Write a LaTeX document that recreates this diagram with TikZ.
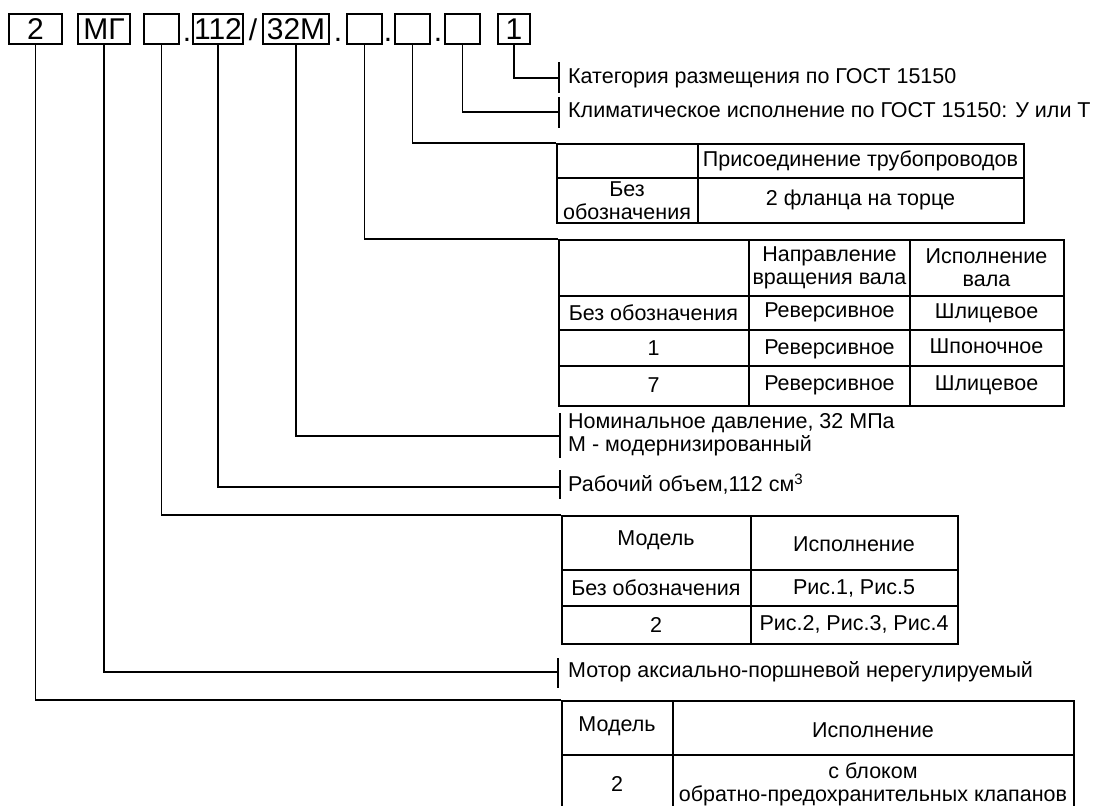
\documentclass[tikz,border=0pt]{standalone}
\usepackage{fontspec}
\setmainfont{Liberation Sans}
\begin{document}
\begin{tikzpicture}[x=1pt,y=-1pt,
  tb/.style={draw, line width=1.5pt, minimum height=30pt, inner sep=0pt, font=\fontsize{30}{32}\selectfont},
  sepmark/.style={inner sep=0pt, anchor=base, font=\fontsize{30}{32}\selectfont},
  conn/.style={line width=1.5pt},
  lbl/.style={anchor=west, inner sep=0pt, font=\fontsize{21.5}{23}\selectfont, align=left},
  cell/.style={inner sep=0pt, font=\fontsize{21.5}{23}\selectfont, align=center},
  tbl/.style={draw, line width=1.5pt, inner sep=0pt, anchor=north west},
  grid/.style={line width=1.5pt}]
\useasboundingbox (0,0) rectangle (1093,806);
\fill[white] (0,0) rectangle (1093,806);

% code boxes
\node[tb, minimum width=53pt] (b1) at (35.5,29) {2};
\node[tb, minimum width=52pt] (b2) at (104,29) {МГ};
\node[tb, minimum width=35pt] (b3) at (161.5,29) {};
\node[sepmark] (d1) at (187,41) {.};
\node[tb, minimum width=50pt] (b4) at (218,29) {112};
\node[sepmark] (sl) at (253,40) {/};
\node[tb, minimum width=66pt] (b5) at (296,29) {32М};
\node[sepmark] (d2) at (338,41) {.};
\node[tb, minimum width=35pt] (b6) at (364.5,29) {};
\node[sepmark] (d3) at (388,41) {.};
\node[tb, minimum width=35pt] (b7) at (412.5,29) {};
\node[sepmark] (d4) at (438,41) {.};
\node[tb, minimum width=35pt] (b8) at (462.5,29) {};
\node[tb, minimum width=32pt] (b9) at (514,29) {1};

% bracket points
\coordinate (k9) at (559,78);
\coordinate (k8) at (559,112);
\coordinate (k5) at (560,436);
\coordinate (k4) at (560,487);
\coordinate (k2) at (558,672);

% brackets
\draw[conn] (559,62) -- (559,93);
\draw[conn] (559,97) -- (559,128);
\draw[conn] (560,413) -- (560,458);
\draw[conn] (560,470) -- (560,499);
\draw[conn] (558,658) -- (558,688);

% labels
\node[lbl] (l9) at (568,78) {Категория размещения по ГОСТ 15150};
\node[lbl] (l8) at (568,110) {Климатическое исполнение по ГОСТ 15150: У или Т};
\node[lbl] (l5) at (568,435) {Номинальное давление, 32 МПа\\М - модернизированный};
\node[lbl] (l4) at (568,484) {Рабочий объем,112 см\textsuperscript{3}};
\node[lbl] (l2) at (568,672) {Мотор аксиально-поршневой нерегулируемый};

% table 1
\node[tbl, minimum width=467pt, minimum height=79pt] (t1) at (556,143) {};
\draw[grid] (698,143) -- (698,222);
\draw[grid] (556,178) -- (1023,178);
\node[cell] (t1h2) at (860.5,160.5) {Присоединение трубопроводов};
\node[cell] (t1r1) at (627,201) {Без\\обозначения};
\node[cell] (t1r2) at (860.5,200) {2 фланца на торце};

% table 2
\node[tbl, minimum width=505pt, minimum height=166pt] (t2) at (558,239) {};
\draw[grid] (749,239) -- (749,405);
\draw[grid] (910,239) -- (910,405);
\draw[grid] (558,296) -- (1063,296);
\draw[grid] (558,330) -- (1063,330);
\draw[grid] (558,366) -- (1063,366);
\node[cell] (t2h2) at (829.5,267.5) {Направление\\вращения вала};
\node[cell] (t2h3) at (986.5,267.5) {Исполнение\\вала};
\node[cell] (t2a1) at (653.5,313) {Без обозначения};
\node[cell] (t2a2) at (829.5,312) {Реверсивное};
\node[cell] (t2a3) at (986.5,313) {Шлицевое};
\node[cell] (t2b1) at (653.5,348) {1};
\node[cell] (t2b2) at (829.5,349) {Реверсивное};
\node[cell] (t2b3) at (986.5,346) {Шпоночное};
\node[cell] (t2c1) at (653.5,385.5) {7};
\node[cell] (t2c2) at (829.5,385.5) {Реверсивное};
\node[cell] (t2c3) at (986.5,385.5) {Шлицевое};

% table 3
\node[tbl, minimum width=396pt, minimum height=128pt] (t3) at (561,515) {};
\draw[grid] (751,515) -- (751,643);
\draw[grid] (561,570) -- (957,570);
\draw[grid] (561,606) -- (957,606);
\node[cell] (t3h1) at (656,540) {Модель};
\node[cell] (t3h2) at (854,544) {Исполнение};
\node[cell] (t3a1) at (656,588) {Без обозначения};
\node[cell] (t3a2) at (854,588) {Рис.1, Рис.5};
\node[cell] (t3b1) at (656,624.5) {2};
\node[cell] (t3b2) at (854,624.5) {Рис.2, Рис.3, Рис.4};

% table 4
\node[tbl, minimum width=512pt, minimum height=110pt] (t4) at (561,700) {};
\draw[grid] (673,700) -- (673,810);
\draw[grid] (561,755) -- (1073,755);
\node[cell] (t4h1) at (617,726) {Модель};
\node[cell] (t4h2) at (873,730) {Исполнение};
\node[cell] (t4a1) at (617,784) {2};
\node[cell] (t4a2) at (873,784) {с блоком\\обратно-предохранительных клапанов};

% connectors
\draw[conn] (b9.south) |- (k9);
\draw[conn] (b8.south) |- (k8);
\draw[conn] (b7.south) |- (t1.north west);
\draw[conn] (b6.south) |- (t2.north west);
\draw[conn] (b5.south) |- (k5);
\draw[conn] (b4.south) |- (k4);
\draw[conn] (b3.south) |- (t3.north west);
\draw[conn] (b2.south) |- (k2);
\draw[conn] (b1.south) |- (t4.north west);
\end{tikzpicture}
\end{document}
